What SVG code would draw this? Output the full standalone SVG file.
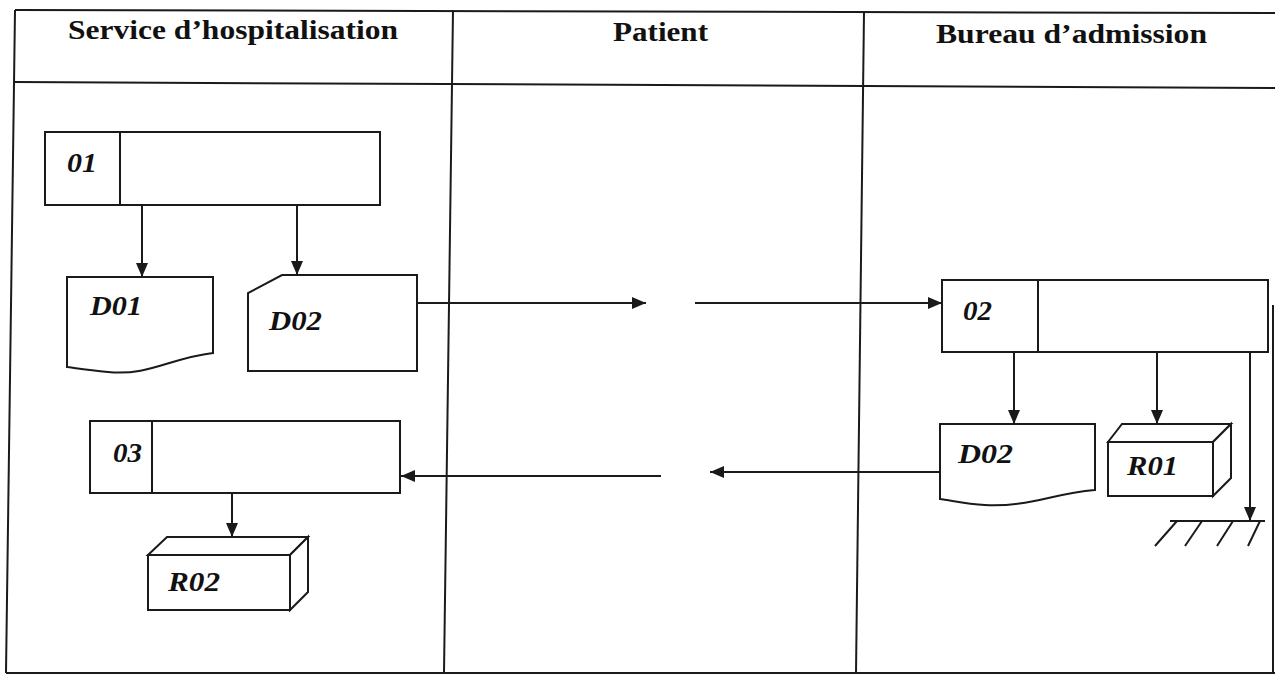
<svg xmlns="http://www.w3.org/2000/svg" width="1275" height="675" viewBox="0 0 1275 675">
<style>
.ln{stroke:#1a1a1a;stroke-width:2;fill:none}
.shp{stroke:#1a1a1a;stroke-width:2;fill:#fff}
.hdr{font-family:"Liberation Serif","Times New Roman",serif;font-weight:bold;font-size:28px;fill:#111}
.lab{font-family:"Liberation Serif","Times New Roman",serif;font-weight:bold;font-style:italic;font-size:28px;fill:#111}
.con{stroke:#1a1a1a;stroke-width:2;fill:none;marker-end:url(#ah)}
</style>
<defs>
<marker id="ah" markerUnits="userSpaceOnUse" markerWidth="14" markerHeight="12" refX="14" refY="6" orient="auto">
<path d="M0,0 L14,6 L0,12 Z" fill="#1a1a1a"/>
</marker>
</defs>
<rect width="1275" height="675" fill="#fff"/>
<g id="frame" class="ln">
<line x1="15" y1="10" x2="1275" y2="13"/>
<line x1="15" y1="82" x2="1275" y2="88"/>
<line x1="6" y1="673" x2="1275" y2="673"/>
<line x1="15" y1="10" x2="6" y2="673"/>
<line x1="453" y1="10" x2="444" y2="673"/>
<line x1="864" y1="12" x2="856" y2="673"/>
<line x1="1273" y1="305" x2="1273" y2="673"/>
</g>
<g id="headers">
<text class="hdr" x="68" y="39" textLength="330" lengthAdjust="spacingAndGlyphs">Service d’hospitalisation</text>
<text class="hdr" x="613" y="41" textLength="95" lengthAdjust="spacingAndGlyphs">Patient</text>
<text class="hdr" x="936" y="43" textLength="271" lengthAdjust="spacingAndGlyphs">Bureau d’admission</text>
</g>
<g id="op01">
<rect class="shp" x="45" y="132" width="335" height="73"/>
<line class="ln" x1="120" y1="132" x2="120" y2="205"/>
<text class="lab" x="67" y="172" textLength="30" lengthAdjust="spacingAndGlyphs">01</text>
</g>
<g id="d01">
<path class="shp" d="M67,277 H213 V353 C170,358 150,376 108,372 C88,370 75,368 67,367 Z"/>
<text class="lab" x="90" y="315" textLength="52" lengthAdjust="spacingAndGlyphs">D01</text>
</g>
<g id="d02a">
<path class="shp" d="M282,275 H417 V371 H248 V293 Z"/>
<text class="lab" x="269" y="330" textLength="53" lengthAdjust="spacingAndGlyphs">D02</text>
</g>
<g id="op03">
<rect class="shp" x="90" y="421" width="310" height="72"/>
<line class="ln" x1="152" y1="421" x2="152" y2="493"/>
<text class="lab" x="113" y="462" textLength="29" lengthAdjust="spacingAndGlyphs">03</text>
</g>
<g id="r02">
<path class="shp" d="M148,555 L167,537 H308 L290,555 Z"/>
<path class="shp" d="M308,537 V592 L290,610 V555 Z"/>
<rect class="shp" x="148" y="555" width="142" height="55"/>
<text class="lab" x="168" y="591" textLength="52" lengthAdjust="spacingAndGlyphs">R02</text>
</g>
<g id="op02">
<rect class="shp" x="942" y="280" width="326" height="72"/>
<line class="ln" x1="1038" y1="280" x2="1038" y2="352"/>
<text class="lab" x="963" y="320" textLength="29" lengthAdjust="spacingAndGlyphs">02</text>
</g>
<g id="d02b">
<path class="shp" d="M940,424 H1095 V490 C1050,494 1030,507 985,505 C965,504 950,500 940,499 Z"/>
<text class="lab" x="958" y="463" textLength="55" lengthAdjust="spacingAndGlyphs">D02</text>
</g>
<g id="r01">
<path class="shp" d="M1108,442 L1122,424 H1231 L1213,442 Z"/>
<path class="shp" d="M1231,424 V478 L1213,496 V442 Z"/>
<rect class="shp" x="1108" y="442" width="105" height="54"/>
<text class="lab" x="1127" y="475" textLength="51" lengthAdjust="spacingAndGlyphs">R01</text>
</g>
<g id="archive" class="ln">
<line x1="1170" y1="521" x2="1265" y2="521"/>
<line x1="1177" y1="521" x2="1155" y2="546"/>
<line x1="1202" y1="521" x2="1185" y2="546"/>
<line x1="1233" y1="521" x2="1217" y2="546"/>
<line x1="1260" y1="521" x2="1248" y2="546"/>
</g>
<g id="connectors">
<line class="con" x1="142" y1="205" x2="142" y2="277"/>
<line class="con" x1="297" y1="205" x2="297" y2="275"/>
<line class="con" x1="417" y1="303" x2="646" y2="303"/>
<line class="con" x1="695" y1="303" x2="942" y2="303"/>
<line class="con" x1="1014" y1="352" x2="1014" y2="424"/>
<line class="con" x1="1157" y1="352" x2="1157" y2="424"/>
<line class="con" x1="1250" y1="352" x2="1250" y2="521"/>
<line class="con" x1="940" y1="472" x2="710" y2="472"/>
<line class="con" x1="661" y1="476" x2="401" y2="476"/>
<line class="con" x1="232" y1="493" x2="232" y2="537"/>
</g>
</svg>
